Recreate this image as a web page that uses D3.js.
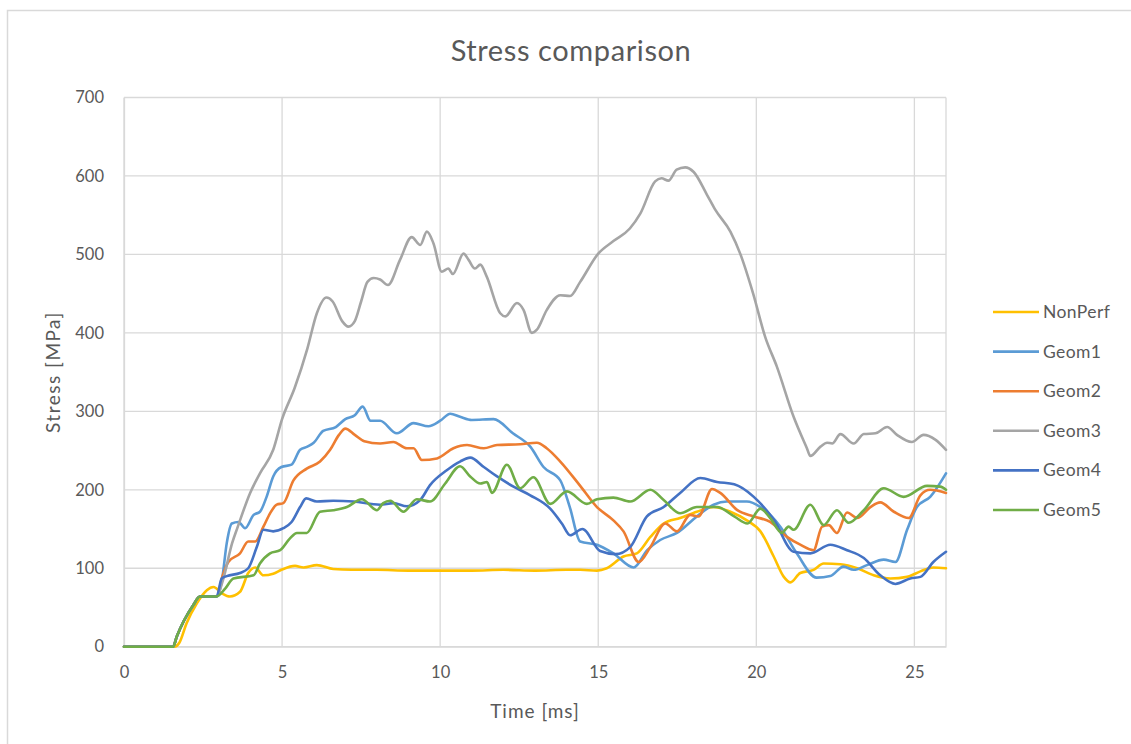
<!DOCTYPE html>
<html>
<head>
<meta charset="utf-8">
<script src="https://cdn.jsdelivr.net/npm/d3@7"></script>
<style>
  html, body { margin: 0; padding: 0; background: #fff; }
  svg { display: block; }
  text { font-family: Lato, "Open Sans", sans-serif; fill: #595959; }
</style>
</head>
<body>
<svg id="chart" width="1131" height="744"></svg>
<script>
// Stress histories [time ms, stress MPa] for each geometry
const nonPerf = [[0,0],[1.6,0],[1.75,5],[1.98,30],[2.3,55],[2.62,72],[2.83,76],[3.1,68],[3.35,64],[3.67,70],[3.93,94],[4.15,101],[4.41,91],[4.72,93],[4.98,98],[5.41,103],[5.68,101],[6.1,104],[6.62,99],[7.2,98],[8,98],[9,97],[10,97],[11,97],[12,98],[13,97],[14,98],[14.43,98],[14.96,97],[15.27,100],[15.8,115],[16.22,119],[16.65,140],[17.07,157],[17.59,164],[18.12,172],[18.65,178],[19.18,172],[19.7,161],[20.13,147],[20.55,115],[20.87,89],[21.08,82],[21.39,94],[21.81,98],[22.13,106],[22.66,105],[23.19,100],[23.71,91],[24.24,87],[24.77,89],[25.19,96],[25.6,101],[26,100]];

const geom1 = [[0,0],[1.55,0],[1.67,13],[2.19,53],[2.4,64],[2.93,64],[3.1,85],[3.25,132],[3.41,157],[3.62,159],[3.83,151],[4.1,168],[4.3,172],[4.51,191],[4.72,217],[4.98,229],[5.3,232],[5.57,251],[5.8,255],[6.0,260],[6.3,275],[6.7,280],[7.0,290],[7.3,295],[7.55,306],[7.8,288],[8.1,288],[8.63,272],[9.16,285],[9.63,281],[10.0,288],[10.32,297],[10.63,293],[11.0,289],[11.69,290],[12.3,272],[12.85,255],[13.27,229],[13.8,212],[14.1,178],[14.43,134],[14.96,130],[15.48,119],[16.12,101],[16.55,123],[16.96,136],[17.49,145],[18.12,166],[18.65,181],[19.07,185],[19.7,185],[20.13,178],[20.76,153],[21.28,119],[21.91,88],[22.34,90],[22.76,102],[23.08,98],[23.5,104],[24.03,111],[24.4,108],[24.77,149],[25.08,178],[25.5,191],[26,221]];

const geom2 = [[0,0],[1.55,0],[1.67,13],[2.19,53],[2.4,64],[2.93,64],[3.1,88],[3.3,108],[3.67,119],[3.93,134],[4.15,134],[4.41,153],[4.62,170],[4.83,181],[5.04,183],[5.36,212],[5.78,227],[6.2,236],[6.52,251],[6.8,270],[7.0,278],[7.3,270],[7.6,262],[8.1,259],[8.52,261],[8.95,253],[9.16,253],[9.42,238],[9.9,240],[10.42,253],[10.85,257],[11.38,253],[11.8,257],[12.53,258],[13.06,260],[13.37,253],[13.8,236],[14.43,205],[14.96,178],[15.48,161],[15.8,147],[16.28,108],[16.65,127],[17.12,157],[17.49,147],[17.91,168],[18.17,166],[18.6,201],[18.86,196],[19.4,174],[19.92,166],[20.44,159],[20.97,140],[21.39,130],[21.81,123],[22.08,153],[22.29,155],[22.55,145],[22.87,171],[23.19,164],[23.61,178],[23.92,184],[24.35,172],[24.82,164],[25.19,193],[25.5,200],[26,196]];

const geom3 = [[0,0],[1.55,0],[1.67,13],[2.19,53],[2.4,64],[2.93,64],[3.13,85],[3.42,132],[3.6,153],[3.99,196],[4.3,221],[4.72,251],[5.0,290],[5.4,330],[5.8,380],[6.1,425],[6.4,445],[6.6,440],[6.9,415],[7.1,408],[7.3,415],[7.5,440],[7.7,465],[7.9,470],[8.1,468],[8.35,461],[8.73,493],[9.1,522],[9.37,512],[9.58,529],[9.79,514],[10.05,478],[10.26,482],[10.4,475],[10.74,501],[10.9,493],[11.1,482],[11.27,487],[11.47,472],[11.9,425],[12.06,421],[12.43,438],[12.64,429],[12.9,400],[13.06,404],[13.37,429],[13.8,448],[14.11,447],[14.43,465],[15.0,501],[15.48,517],[16.0,533],[16.33,552],[16.8,593],[17.0,597],[17.22,594],[17.48,608],[17.75,611],[18.02,605],[18.44,576],[18.7,557],[19.18,529],[19.49,501],[19.9,450],[20.28,395],[20.65,357],[21.18,293],[21.6,253],[21.71,243],[22.03,255],[22.24,260],[22.4,259],[22.66,271],[23.08,259],[23.4,271],[23.77,272],[24.14,280],[24.45,270],[24.92,261],[25.29,270],[25.66,264],[26,251]];

const geom4 = [[0,0],[1.55,0],[1.67,13],[2.19,53],[2.4,64],[2.93,64],[3.09,87],[3.25,90],[3.67,94],[3.93,100],[4.2,127],[4.41,149],[4.72,147],[5.04,151],[5.3,159],[5.57,178],[5.76,189],[6.1,185],[6.62,186],[7.26,185],[8.1,181],[8.52,183],[8.95,179],[9.37,187],[9.68,206],[10.21,225],[10.63,236],[10.95,241],[11.38,229],[11.8,217],[12.32,204],[12.85,193],[13.48,176],[13.85,157],[14.11,142],[14.5,150],[15.06,122],[15.55,118],[16.01,127],[16.54,166],[17.07,178],[17.59,196],[18.23,215],[18.76,210],[19.3,207],[19.92,191],[20.55,162],[21.18,121],[21.71,119],[22.34,130],[22.87,123],[23.4,113],[23.92,91],[24.4,80],[24.87,87],[25.19,89],[25.6,108],[26,121]];

const geom5 = [[0,0],[1.55,0],[1.67,13],[2.19,53],[2.4,64],[2.93,64],[3.2,74],[3.46,87],[4.1,91],[4.3,106],[4.62,119],[4.94,123],[5.25,138],[5.47,145],[5.78,145],[6.2,172],[6.62,174],[7.05,178],[7.52,188],[8.0,174],[8.2,183],[8.42,186],[8.84,172],[9.26,188],[9.68,185],[10.16,208],[10.63,230],[10.95,217],[11.27,208],[11.48,210],[11.64,196],[12.11,232],[12.53,202],[12.95,216],[13.48,182],[14.01,198],[14.64,182],[14.96,188],[15.48,190],[16.01,185],[16.65,200],[17.07,187],[17.59,170],[18.12,178],[18.76,178],[19.3,166],[19.72,157],[20.13,176],[20.44,164],[20.81,145],[21.02,153],[21.18,149],[21.71,181],[22.13,155],[22.55,174],[22.92,158],[23.4,174],[24.03,202],[24.66,191],[25.4,205],[25.82,204],[26,200]];

const seriesNames = ["NonPerf", "Geom1", "Geom2", "Geom3", "Geom4", "Geom5"];
const seriesData = [nonPerf, geom1, geom2, geom3, geom4, geom5];
const seriesColors = ["#FFC000", "#5B9BD5", "#ED7D31", "#A5A5A5", "#4472C4", "#70AD47"];
const xTicks = [0, 5, 10, 15, 20, 25];
const yTicks = [0, 100, 200, 300, 400, 500, 600, 700];

const svg = d3.select("#chart");

// chart frame
svg.append("rect")
  .attr("x", 7.5).attr("y", 10.5)
  .attr("width", 1200).attr("height", 800)
  .attr("fill", "#fff").attr("stroke", "#d9d9d9").attr("stroke-width", 1.5);

const plot = { left: 124, top: 97.5, right: 946, bottom: 646.7 };

const x = d3.scaleLinear().domain([0, 26]).range([plot.left, plot.right]);
const y = d3.scaleLinear().domain([0, 700]).range([plot.bottom, plot.top]);

// gridlines
const grid = svg.append("g");
grid.selectAll("line.h").data(yTicks).join("line")
  .attr("x1", plot.left).attr("x2", plot.right)
  .attr("y1", d => y(d)).attr("y2", d => y(d))
  .attr("stroke", "#d9d9d9").attr("stroke-width", 1.3);
grid.selectAll("line.v").data(xTicks).join("line")
  .attr("y1", plot.top).attr("y2", plot.bottom)
  .attr("x1", d => x(d)).attr("x2", d => x(d))
  .attr("stroke", "#d9d9d9").attr("stroke-width", 1.3);
grid.append("line")
  .attr("x1", plot.right).attr("x2", plot.right)
  .attr("y1", plot.top).attr("y2", plot.bottom)
  .attr("stroke", "#d9d9d9").attr("stroke-width", 1.3);

// axes
const xAxis = d3.axisBottom(x).tickValues(xTicks).tickSize(0).tickPadding(20);
const gx = svg.append("g").attr("transform", `translate(0,${plot.bottom})`).call(xAxis);
gx.select(".domain").attr("stroke", "#d9d9d9").attr("stroke-width", 1.3);
gx.selectAll("text").style("font-size", "16.5px").style("font-family", "Lato").attr("fill", "#595959");

const yAxis = d3.axisLeft(y).tickValues(yTicks).tickSize(0).tickPadding(20);
const gy = svg.append("g").attr("transform", `translate(${plot.left},0)`).call(yAxis);
gy.select(".domain").attr("stroke", "#d9d9d9").attr("stroke-width", 1.3);
gy.selectAll("text").style("font-size", "16.5px").style("font-family", "Lato").attr("fill", "#595959");

// lines
const line = d3.line()
  .x(d => x(d[0]))
  .y(d => y(d[1]))
  .curve(d3.curveMonotoneX);

svg.append("g").selectAll("path").data(seriesData).join("path")
  .attr("d", line)
  .attr("fill", "none")
  .attr("stroke", (d, i) => seriesColors[i])
  .attr("stroke-width", 2.6)
  .attr("stroke-linejoin", "round")
  .attr("stroke-linecap", "round");

// title and axis titles
svg.append("text")
  .attr("x", 571).attr("y", 61)
  .attr("text-anchor", "middle")
  .style("font-size", "29px")
  .style("letter-spacing", "0.6px")
  .text("Stress comparison");

svg.append("text")
  .attr("x", (plot.left + plot.right) / 2).attr("y", 718)
  .attr("text-anchor", "middle")
  .style("font-size", "19px")
  .style("letter-spacing", "1px")
  .text("Time [ms]");

svg.append("text")
  .attr("transform", `translate(60,${(plot.top + plot.bottom) / 2}) rotate(-90)`)
  .attr("text-anchor", "middle")
  .style("font-size", "19px")
  .style("letter-spacing", "1.5px")
  .text("Stress [MPa]");

// legend
const legend = svg.append("g");
const items = legend.selectAll("g").data(seriesNames).join("g")
  .attr("transform", (d, i) => `translate(993,${312 + i * 39.6})`);
items.append("line")
  .attr("x1", 0).attr("x2", 46)
  .attr("stroke", (d, i) => seriesColors[i])
  .attr("stroke-width", 2.6);
items.append("text")
  .attr("x", 50).attr("y", 6)
  .style("font-size", "17.5px")
  .style("letter-spacing", "0.4px")
  .text(d => d);
</script>
</body>
</html>
